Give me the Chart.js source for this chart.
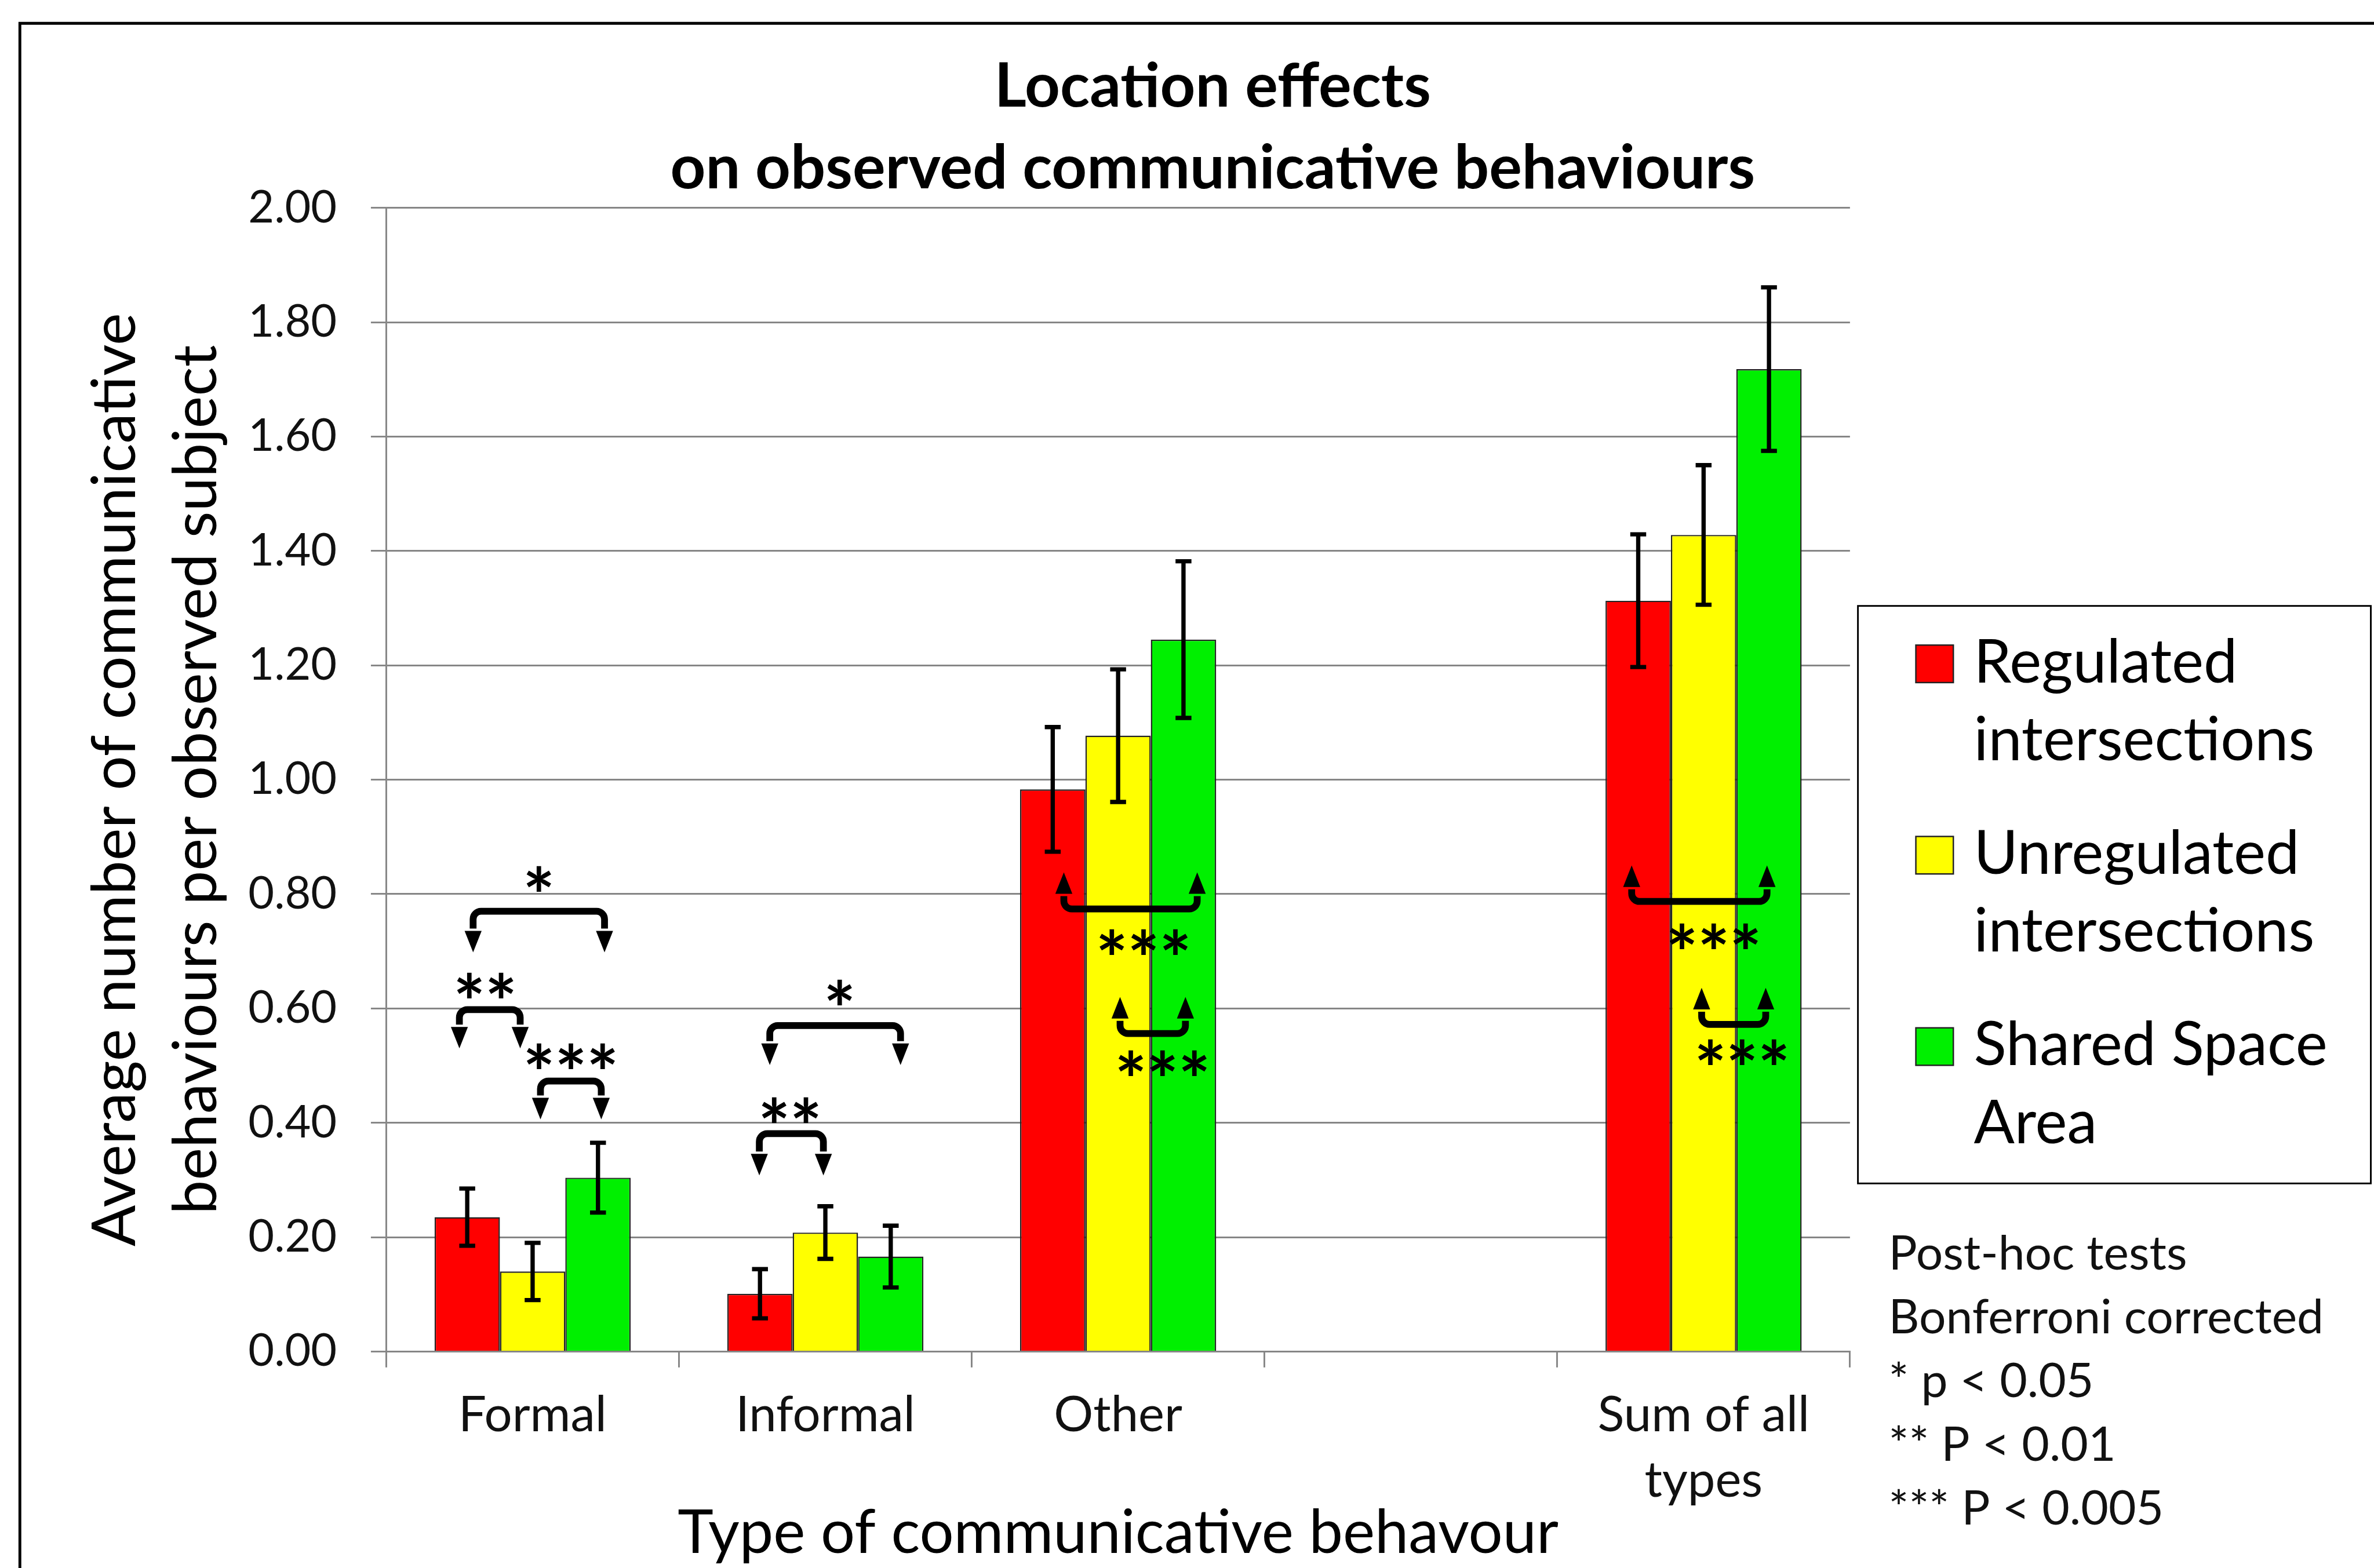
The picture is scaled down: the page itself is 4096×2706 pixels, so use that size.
<!DOCTYPE html>
<html>
<head>
<meta charset="utf-8">
<title>Location effects on observed communicative behaviours</title>
<script src="https://cdn.jsdelivr.net/npm/chart.js@4.4.1/dist/chart.umd.min.js"></script>
<style>
  html, body { margin: 0; padding: 0; background: #fff; }
  canvas { display: block; }
</style>
</head>
<body>
<canvas id="chart" width="4096" height="2706"></canvas>
<script>
// --- data ---
const categories = ['Formal', 'Informal', 'Other', '', ['Sum of all', 'types']];
const seriesNames = ['Regulated intersections', 'Unregulated intersections', 'Shared Space Area'];
const regulated = [0.235, 0.101, 0.983, null, 1.313];
const unregulated = [0.140, 0.208, 1.077, null, 1.428];
const sharedSpace = [0.304, 0.166, 1.245, null, 1.718];
const regulatedErr = [0.050, 0.043, 0.109, null, 0.116];
const unregulatedErr = [0.050, 0.046, 0.116, null, 0.122];
const sharedSpaceErr = [0.061, 0.054, 0.137, null, 0.143];
const yMin = 0, yMax = 2, yStep = 0.2;
const titleLines = ['Location effects', 'on observed communicative behaviours'];
const yTitleLines = ['Average number of communicative', 'behaviours per observed subject'];
const xTitle = 'Type of communicative behavour';
const noteLines = ['Post-hoc tests', 'Bonferroni corrected', '* p < 0.05', '** P < 0.01', '*** P < 0.005'];

// significance brackets: category, from/to dataset, level of the bar and the arrow tips (axis units)
const brackets = [
  { cat: 0, a: 0, b: 2, da: 0.09, db: 0.10, level: 0.770, tip: 0.698, text: '*', textAt: 0.827, tdx: 0.0 },
  { cat: 0, a: 0, b: 1, da: -0.12, db: -0.19, level: 0.598, tip: 0.530, text: '**', textAt: 0.640, tdx: -0.07 },
  { cat: 0, a: 1, b: 2, da: 0.12, db: 0.05, level: 0.473, tip: 0.406, text: '***', textAt: 0.517, tdx: 0.0 },
  { cat: 1, a: 0, b: 2, da: 0.15, db: 0.15, level: 0.570, tip: 0.501, text: '*', textAt: 0.628, tdx: 0.07 },
  { cat: 1, a: 0, b: 1, da: -0.01, db: -0.03, level: 0.381, tip: 0.308, text: '**', textAt: 0.422, tdx: -0.02 },
  { cat: 2, a: 0, b: 2, da: 0.17, db: 0.21, level: 0.774, tip: 0.838, text: '***', textAt: 0.716, tdx: 0.20 },
  { cat: 2, a: 1, b: 2, da: 0.03, db: 0.03, level: 0.556, tip: 0.620, text: '***', textAt: 0.505, tdx: 0.15 },
  { cat: 4, a: 0, b: 2, da: -0.10, db: -0.03, level: 0.787, tip: 0.850, text: '***', textAt: 0.726, tdx: 0.22 },
  { cat: 4, a: 1, b: 2, da: -0.03, db: -0.05, level: 0.572, tip: 0.636, text: '***', textAt: 0.524, tdx: 0.13 }
];

// --- sizing (reference pixels scaled to the window) ---
const S = 0.98;
const px = v => v * S;
const W = 4096, H = 2706;
const FONT = "Lato, 'Open Sans', sans-serif";
const GRID = '#868686';
const MID = 0.387; // em middle above the baseline for Lato

const meas = document.createElement('canvas').getContext('2d');
function fitSize(text, weight, refWidth) {
  meas.font = weight + ' 100px ' + FONT;
  return 100 * px(refWidth) / meas.measureText(text).width;
}
const titleSize = fitSize(titleLines[1], 'bold', 1910);
const yTitleSize = fitSize(yTitleLines[0], 'normal', 1644);
const xTitleSize = fitSize(xTitle, 'normal', 1551);
const yTickSize = fitSize('2.00', 'normal', 156);
const xTickSize = fitSize('Formal', 'normal', 261);
const legendSize = fitSize('intersections', 'normal', 600);
const noteSize = fitSize('Bonferroni corrected', 'normal', 766);

meas.font = 'bold 100px ' + FONT;
const starInk = meas.measureText('*');
const starSize = 100 * px(44) / (starInk.actualBoundingBoxLeft + starInk.actualBoundingBoxRight);

const yTitleLH = px(143);
const yTitlePad = px(245) - MID * yTitleSize - yTitleLH / 2;
const xTitlePad = H - xTitleSize / 2 - (px(2742) - MID * xTitleSize);
const xTickLH = px(115);
const xTickPad = (px(2526) - MID * xTickSize) - (px(2380) + px(28) + xTickLH / 2);

function wrapWords(ctx, text, maxW) {
  const words = text.split(' ');
  const lines = [];
  let cur = '';
  for (const w of words) {
    const t = cur ? cur + ' ' + w : w;
    if (cur && ctx.measureText(t).width > maxW) { lines.push(cur); cur = w; } else { cur = t; }
  }
  lines.push(cur);
  return lines;
}

function drawBracket(ctx, xa, xb, yLevel, yTip) {
  const dir = Math.sign(yTip - yLevel);
  const headLen = px(42), headW = px(30);
  const yEnd = yTip - dir * headLen;
  ctx.lineWidth = px(12);
  ctx.lineJoin = 'round';
  ctx.beginPath();
  ctx.moveTo(xa, yEnd);
  ctx.arcTo(xa, yLevel, xb, yLevel, px(14));
  ctx.arcTo(xb, yLevel, xb, yEnd, px(14));
  ctx.lineTo(xb, yEnd);
  ctx.stroke();
  for (const x of [xa, xb]) {
    ctx.beginPath();
    ctx.moveTo(x - headW / 2, yEnd + dir * 4);
    ctx.lineTo(x + headW / 2, yEnd + dir * 4);
    ctx.lineTo(x, yTip);
    ctx.closePath();
    ctx.fill();
  }
}

function drawStars(ctx, text, cx, cy) {
  ctx.font = 'bold ' + starSize + 'px ' + FONT;
  const m = ctx.measureText('*');
  const pitch = px(56);
  ctx.letterSpacing = (pitch - m.width) + 'px';
  ctx.textAlign = 'left';
  ctx.textBaseline = 'alphabetic';
  const x0 = cx - ((text.length - 1) * pitch + m.width) / 2;
  ctx.fillText(text, x0, cy + (m.actualBoundingBoxAscent - m.actualBoundingBoxDescent) / 2);
  ctx.letterSpacing = '0px';
}

const overlays = {
  id: 'overlays',
  beforeDraw(chart) {
    const ctx = chart.ctx;
    ctx.save();
    ctx.fillStyle = '#fff';
    ctx.fillRect(0, 0, W, H);
    // outer frame (only top and left edges are inside the picture)
    ctx.strokeStyle = '#000';
    ctx.lineWidth = px(5);
    ctx.beginPath();
    ctx.moveTo(W + 10, px(41));
    ctx.lineTo(px(35), px(41));
    ctx.lineTo(px(35), H + 10);
    ctx.stroke();
    ctx.restore();
  },
  afterDatasetsDraw(chart) {
    const ctx = chart.ctx;
    const y = chart.scales.y;
    ctx.save();
    // error bars
    ctx.strokeStyle = '#000';
    ctx.fillStyle = '#000';
    ctx.lineWidth = px(7.5);
    const cap = px(14);
    chart.data.datasets.forEach((ds, i) => {
      const meta = chart.getDatasetMeta(i);
      meta.data.forEach((bar, j) => {
        const v = ds.data[j], e = ds.errors[j];
        if (v == null || e == null) return;
        const top = y.getPixelForValue(v + e), bot = y.getPixelForValue(v - e);
        ctx.beginPath();
        ctx.moveTo(bar.x, top); ctx.lineTo(bar.x, bot);
        ctx.moveTo(bar.x - cap, top); ctx.lineTo(bar.x + cap, top);
        ctx.moveTo(bar.x - cap, bot); ctx.lineTo(bar.x + cap, bot);
        ctx.stroke();
      });
    });
    // significance brackets
    brackets.forEach(bk => {
      const barA = chart.getDatasetMeta(bk.a).data[bk.cat];
      const barB = chart.getDatasetMeta(bk.b).data[bk.cat];
      const xa = barA.x + bk.da * barA.width;
      const xb = barB.x + bk.db * barB.width;
      drawBracket(ctx, xa, xb, y.getPixelForValue(bk.level), y.getPixelForValue(bk.tip));
      drawStars(ctx, bk.text, (xa + xb) / 2 + bk.tdx * barA.width, y.getPixelForValue(bk.textAt));
    });
    ctx.restore();
  },
  afterDraw(chart) {
    const ctx = chart.ctx;
    ctx.save();
    ctx.fillStyle = '#000';
    ctx.textBaseline = 'alphabetic';
    // title
    ctx.font = 'bold ' + titleSize + 'px ' + FONT;
    ctx.textAlign = 'center';
    ctx.fillText(titleLines[0], px(2135), px(188));
    ctx.fillText(titleLines[1], px(2135), px(332));
    // legend
    ctx.strokeStyle = '#000';
    ctx.lineWidth = px(3);
    ctx.strokeRect(px(3271), px(1067), px(4174 - 3271), px(2084 - 1067));
    ctx.font = legendSize + 'px ' + FONT;
    ctx.textAlign = 'left';
    chart.data.datasets.forEach((ds, i) => {
      const base = px(1202) + i * px(337);
      const lines = wrapWords(ctx, ds.label, px(700));
      ctx.fillStyle = ds.backgroundColor;
      ctx.fillRect(px(3373), base - px(66), px(66), px(66));
      ctx.lineWidth = px(2.5);
      ctx.strokeStyle = '#222';
      ctx.strokeRect(px(3373), base - px(66), px(66), px(66));
      ctx.fillStyle = '#000';
      lines.forEach((ln, k) => ctx.fillText(ln, px(3475), base + k * px(137)));
    });
    // notes
    ctx.font = noteSize + 'px ' + FONT;
    ctx.fillStyle = '#111';
    noteLines.forEach((ln, k) => ctx.fillText(ln, px(3325), px(2236) + k * px(112.2)));
    ctx.restore();
  }
};

const colors = ['#ff0000', '#ffff00', '#00f000'];
const series = [regulated, unregulated, sharedSpace];
const errs = [regulatedErr, unregulatedErr, sharedSpaceErr];

new Chart(document.getElementById('chart'), {
  type: 'bar',
  data: {
    labels: categories,
    datasets: seriesNames.map((name, i) => ({
      label: name,
      data: series[i],
      errors: errs[i],
      backgroundColor: colors[i],
      borderColor: '#222',
      borderWidth: px(2.5),
      categoryPercentage: 0.67,
      barPercentage: 1.0
    }))
  },
  options: {
    responsive: false,
    animation: false,
    devicePixelRatio: 1,
    layout: { padding: { left: 0, top: px(366), right: W - px(3257), bottom: 0 } },
    plugins: {
      legend: { display: false },
      title: { display: false },
      tooltip: { enabled: false }
    },
    scales: {
      x: {
        grid: { drawOnChartArea: false, color: GRID, lineWidth: px(3), tickLength: px(28), offset: true },
        border: { color: GRID, width: px(3) },
        ticks: {
          color: '#111', autoSkip: false, maxRotation: 0, padding: xTickPad,
          font: { family: FONT, size: xTickSize, lineHeight: xTickLH.toFixed(2) + 'px' }
        },
        title: {
          display: true, text: xTitle, color: '#000',
          font: { family: FONT, size: xTitleSize, lineHeight: 1 },
          padding: { top: 0, bottom: xTitlePad }
        },
        afterFit: s => { s.height = H - px(2380); }
      },
      y: {
        min: yMin, max: yMax,
        grid: { color: GRID, lineWidth: px(3), tickLength: px(27) },
        border: { color: GRID, width: px(3) },
        ticks: {
          stepSize: yStep, color: '#111', padding: px(60),
          callback: v => v.toFixed(2),
          font: { family: FONT, size: yTickSize }
        },
        title: {
          display: true, text: yTitleLines, color: '#000',
          font: { family: FONT, size: yTitleSize, lineHeight: yTitleLH.toFixed(2) + 'px' },
          padding: { top: yTitlePad, bottom: 0 }
        },
        afterFit: s => { s.width = px(680); }
      }
    }
  },
  plugins: [overlays]
});
</script>
</body>
</html>
